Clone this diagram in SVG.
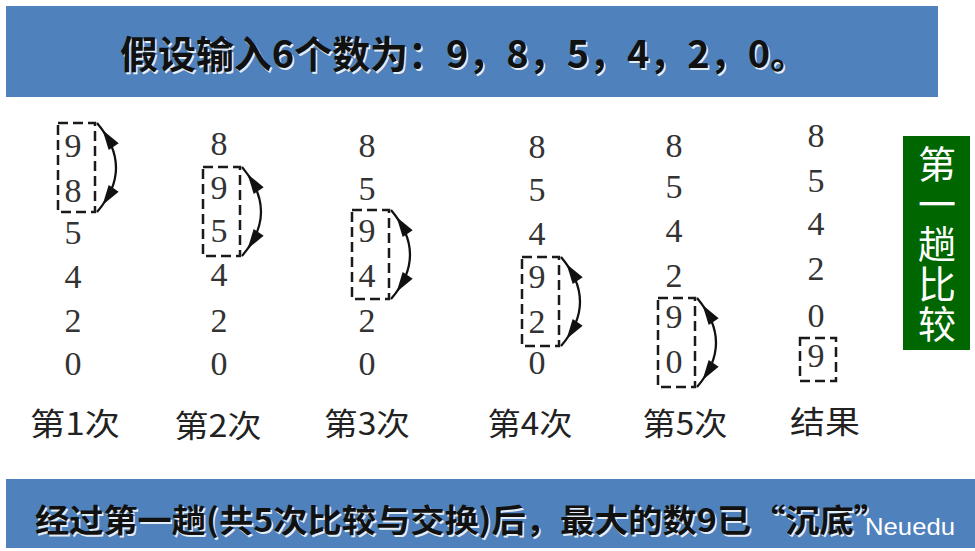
<svg xmlns="http://www.w3.org/2000/svg" width="975" height="551" viewBox="0 0 975 551">
<style>
.banner{fill:#4F81BD}
.hd{font-family:"Noto Sans CJK SC","Liberation Sans",sans-serif;font-weight:bold;fill:#111}
.hdsh{font-family:"Noto Sans CJK SC","Liberation Sans",sans-serif;font-weight:bold;fill:#ffffff;opacity:0.85}
.num{font-family:"Liberation Serif","Noto Sans CJK SC",serif;font-size:34px;fill:#333;text-anchor:middle}
.lbl{font-family:"Noto Sans CJK SC","Liberation Sans",sans-serif;font-size:31px;fill:#222;text-anchor:middle}
.box{fill:none;stroke:#1a1a1a;stroke-width:2.5;stroke-dasharray:10 5}
.arc{fill:none;stroke:#111;stroke-width:2.2}
.ah{fill:#111}
.side{font-family:"Noto Sans CJK SC","Liberation Sans",sans-serif;font-size:38px;fill:#ffffff;writing-mode:vertical-rl;letter-spacing:2px}
</style>
<defs>
<g id="swap">
<rect class="box" x="0" y="0" width="37" height="89"/>
<path class="arc" d="M39,0 Q77,45 39,89"/>
<path class="ah" d="M0,0 L-20,-6 L-20,6 Z" transform="translate(44.5,7) rotate(-124)"/>
<path class="ah" d="M0,0 L-20,-6 L-20,6 Z" transform="translate(44.5,82) rotate(124)"/>
</g>
</defs>
<rect width="975" height="551" fill="#ffffff"/>

<g id="header">
<rect class="banner" x="6" y="6" width="932" height="91"/>
<text class="hdsh" x="121.5" y="69.5" font-size="38" textLength="688" lengthAdjust="spacingAndGlyphs">假设输入6个数为：9，8，5，4，2，0。</text>
<text class="hd" x="120" y="68" font-size="38" textLength="688" lengthAdjust="spacingAndGlyphs">假设输入6个数为：9，8，5，4，2，0。</text>
</g>

<g id="pass1">
<use href="#swap" x="58" y="123"/>
<text class="num" x="73" y="157">9</text>
<text class="num" x="73" y="202">8</text>
<text class="num" x="73" y="244">5</text>
<text class="num" x="73" y="288">4</text>
<text class="num" x="73" y="332">2</text>
<text class="num" x="73" y="375">0</text>
<text class="lbl" x="75" y="435" textLength="90" lengthAdjust="spacingAndGlyphs">第1次</text>
</g>

<g id="pass2">
<use href="#swap" x="203" y="167"/>
<text class="num" x="219" y="155">8</text>
<text class="num" x="219" y="199">9</text>
<text class="num" x="219" y="242">5</text>
<text class="num" x="219" y="286">4</text>
<text class="num" x="219" y="332">2</text>
<text class="num" x="219" y="375">0</text>
<text class="lbl" x="218" y="437" textLength="87" lengthAdjust="spacingAndGlyphs">第2次</text>
</g>

<g id="pass3">
<use href="#swap" x="352" y="210"/>
<text class="num" x="367" y="157">8</text>
<text class="num" x="367" y="200">5</text>
<text class="num" x="367" y="242">9</text>
<text class="num" x="367" y="287">4</text>
<text class="num" x="367" y="332">2</text>
<text class="num" x="367" y="375">0</text>
<text class="lbl" x="367" y="435" textLength="86" lengthAdjust="spacingAndGlyphs">第3次</text>
</g>

<g id="pass4">
<use href="#swap" x="522" y="257"/>
<text class="num" x="537" y="158">8</text>
<text class="num" x="537" y="201">5</text>
<text class="num" x="537" y="245">4</text>
<text class="num" x="537" y="288">9</text>
<text class="num" x="537" y="333">2</text>
<text class="num" x="537" y="374">0</text>
<text class="lbl" x="530" y="435" textLength="85" lengthAdjust="spacingAndGlyphs">第4次</text>
</g>

<g id="pass5">
<use href="#swap" x="658" y="298"/>
<text class="num" x="674" y="157">8</text>
<text class="num" x="674" y="198">5</text>
<text class="num" x="674" y="242">4</text>
<text class="num" x="674" y="287">2</text>
<text class="num" x="674" y="328">9</text>
<text class="num" x="674" y="373">0</text>
<text class="lbl" x="685" y="435" textLength="85" lengthAdjust="spacingAndGlyphs">第5次</text>
</g>

<g id="result">
<rect class="box" x="800" y="338" width="36" height="43"/>
<text class="num" x="816" y="147">8</text>
<text class="num" x="816" y="192">5</text>
<text class="num" x="816" y="235">4</text>
<text class="num" x="816" y="280">2</text>
<text class="num" x="816" y="327">0</text>
<text class="num" x="816" y="367">9</text>
<text class="lbl" x="825" y="433" textLength="70" lengthAdjust="spacingAndGlyphs">结果</text>
</g>

<g id="side-label">
<rect x="903" y="136" width="67" height="214" fill="#006600"/>
<text class="side" x="937" y="145">第一趟比较</text>
</g>

<g id="footer">
<rect class="banner" x="6" y="479" width="969" height="69"/>
<text class="hdsh" x="36.5" y="533.5" font-size="32" textLength="853" lengthAdjust="spacingAndGlyphs">经过第一趟(共5次比较与交换)后，最大的数9已“沉底”</text>
<text class="hd" x="35" y="532" font-size="32" textLength="853" lengthAdjust="spacingAndGlyphs">经过第一趟(共5次比较与交换)后，最大的数9已“沉底”</text>
<text x="865" y="535" font-family="Liberation Sans, Arial, sans-serif" font-size="24" fill="#ffffff" textLength="90" lengthAdjust="spacingAndGlyphs">Neuedu</text>
</g>
</svg>
